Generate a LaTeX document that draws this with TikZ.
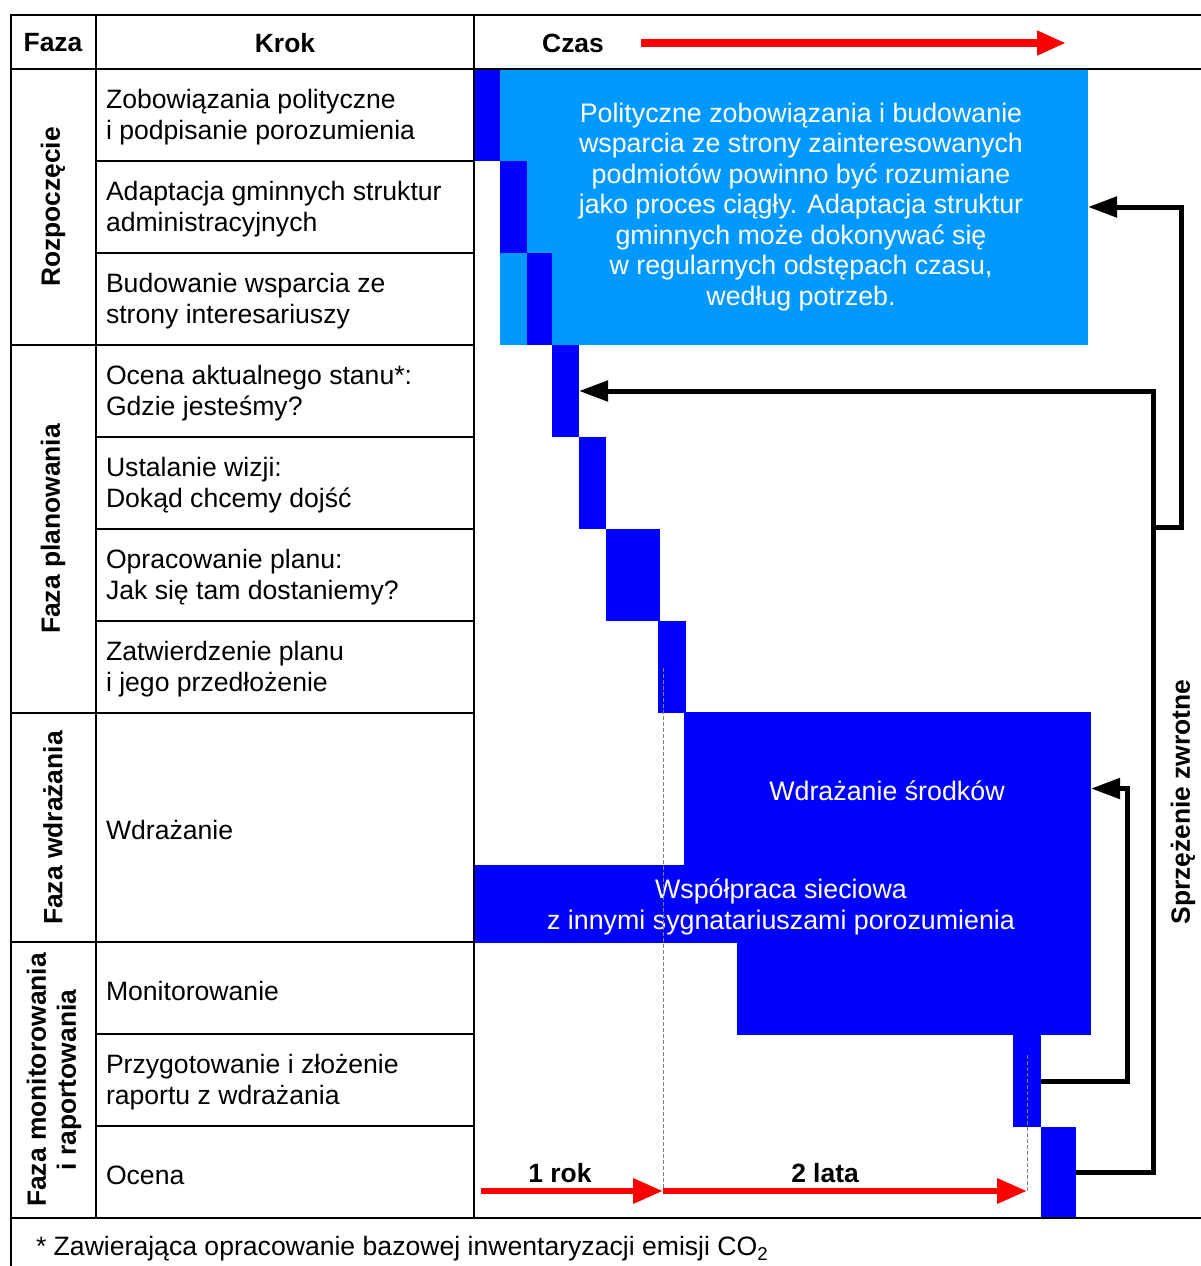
\documentclass[tikz,border=0pt]{standalone}
\usepackage{fontspec}
\setmainfont{Liberation Sans}
\usetikzlibrary{arrows.meta}
\usetikzlibrary{calc}
\definecolor{niebieski}{HTML}{0000FF}
\definecolor{jasnoniebieski}{HTML}{0099FF}
\definecolor{czerwony}{HTML}{FF0000}

\begin{document}
\begin{tikzpicture}[x=1pt,y=-1pt,inner sep=0pt,outer sep=0pt,font=\fontsize{26.6}{31}\selectfont,
  linia/.style={line width=2pt,line cap=rect},
  krok/.style={anchor=west,align=left},
  gruby/.style={font=\fontsize{26.4}{31}\selectfont\bfseries},
  faza/.style={rotate=90,align=center,font=\fontsize{26.4}{30}\selectfont\bfseries},
  pasek/.style={fill=niebieski,anchor=north west,minimum height=92pt},
  opis/.style={text=white,align=center,font=\fontsize{26.8}{30.5}\selectfont},
  czasowa/.style={draw=czerwony,line width=8pt,-{Triangle[length=29pt,width=23pt]}},
  roczna/.style={draw=czerwony,line width=6.5pt,-{Triangle[length=30pt,width=24pt]}},
  zwrot/.style={line width=5pt,-{Triangle[length=29pt,width=20pt]}},
  kreska/.style={draw=gray,line width=0.8pt,dash pattern=on 4pt off 2pt}]
\useasboundingbox (0,0) rectangle (1201,1266);
\node [fill=jasnoniebieski,anchor=north west,minimum width=588pt,minimum height=276pt] (pol) at (500,69) {};
\node [opis] (poltxt) at (801,207) {Polityczne zobowiązania i budowanie\\wsparcia ze strony zainteresowanych\\podmiotów powinno być rozumiane\\jako proces ciągły. Adaptacja struktur\\gminnych może dokonywać się\\w regularnych odstępach czasu,\\według potrzeb.};
\node [pasek,minimum width=26pt] (b1) at (474,69) {};
\node [pasek,minimum width=27pt] (b2) at (500,161) {};
\node [pasek,minimum width=25pt] (b3) at (527,253) {};
\node [pasek,minimum width=27pt] (b4) at (552,345) {};
\node [pasek,minimum width=27pt] (b5) at (579,437) {};
\node [pasek,minimum width=54pt] (b6) at (606,529) {};
\node [pasek,minimum width=28pt] (b7) at (658,621) {};
\node [pasek,minimum width=407pt,minimum height=153pt] (wds) at (684,712) {};
\node [opis] (wdstxt) at (887,791) {Wdrażanie środków};
\node [pasek,minimum width=617pt,minimum height=78pt] (wsp) at (474,865) {};
\node [opis] (wsptxt) at (781,907) {Współpraca sieciowa\\z innymi sygnatariuszami porozumienia};
\node [pasek,minimum width=354pt] (mon) at (737,943) {};
\node [pasek,minimum width=28pt] (b10) at (1013,1035) {};
\node [pasek,minimum width=35pt,minimum height=91pt] (b11) at (1041,1127) {};
\draw[linia] (11,15) -- (1201,15);
\draw[linia] (11,69) -- (1201,69);
\draw[linia] (11,1218) -- (1201,1218);
\draw[linia] (11,15) -- (11,1266);
\draw[linia] (96,15) -- (96,1218);
\draw[linia] (474,15) -- (474,1218);
\draw[linia] (11,345) -- (474,345);
\draw[linia] (11,713) -- (474,713);
\draw[linia] (11,942) -- (474,942);
\foreach \y in {161,253,437,529,621,1034,1126} \draw[linia] (96,\y) -- (474,\y);
\node [gruby] (faza) at (53,43) {Faza};
\node [gruby] (krok) at (285,43) {Krok};
\node [gruby] (czas) at (573,43) {Czas};
\coordinate (czas0) at (641,43);
\coordinate (czas1) at (1066,43);
\draw [czasowa] (czas0) -- (czas1);
\node [faza] (f1) at (53,207) {Rozpoczęcie};
\node [faza] (f2) at (53,529) {Faza planowania};
\node [faza] (f3) at (53,828) {Faza wdrażania};
\node [faza] (f4) at (54,1080) {Faza monitorowania\\i raportowania};
\node [krok] (k1) at (106,117) {Zobowiązania polityczne\\i podpisanie porozumienia};
\node [krok] (k2) at (106,209) {Adaptacja gminnych struktur\\administracyjnych};
\node [krok] (k3) at (106,301) {Budowanie wsparcia ze\\strony interesariuszy};
\node [krok] (k4) at (106,393) {Ocena aktualnego stanu*:\\Gdzie jesteśmy?};
\node [krok] (k5) at (106,485) {Ustalanie wizji:\\Dokąd chcemy dojść};
\node [krok] (k6) at (106,577) {Opracowanie planu:\\Jak się tam dostaniemy?};
\node [krok] (k7) at (106,669) {Zatwierdzenie planu\\i jego przedłożenie};
\node [krok] (k8) at (106,830) {Wdrażanie};
\node [krok] (k9) at (106,991) {Monitorowanie};
\node [krok] (k10) at (106,1082) {Przygotowanie i złożenie\\raportu z wdrażania};
\node [krok] (k11) at (106,1175) {Ocena};
\coordinate (rok0) at (481,1191);
\coordinate (rok1) at (663,1191);
\coordinate (rok2) at (1027,1191);
\coordinate (kres1) at (663,668);
\coordinate (kres2) at (1027,1055);
\draw [kreska] (kres1) -- (rok1);
\draw [kreska] (kres2) -- (rok2);
\draw [roczna] (rok0) -- (rok1);
\draw [roczna] (rok1) -- (rok2);
\node [gruby] (rok) at (560,1173) {1 rok};
\node [gruby] (lata) at (825,1173) {2 lata};
\coordinate (rozgal) at (1153,527);
\draw [zwrot] (b11.east) -| ($ (b4.east) + (574,0) $) -- (b4.east);
\draw [zwrot] (rozgal) -| ($ (pol.east) + (93,0) $) -- (pol.east);
\draw [zwrot] (b10.east) -| ($ (wds.east) + (36,0) $) -- (wds.east);
\node [faza] (zwrotne) at (1183,802) {Sprzężenie zwrotne};
\node [anchor=west] (przypis) at (36,1249) {* Zawierająca opracowanie bazowej inwentaryzacji emisji CO\textsubscript{2}};
\end{tikzpicture}
\end{document}
